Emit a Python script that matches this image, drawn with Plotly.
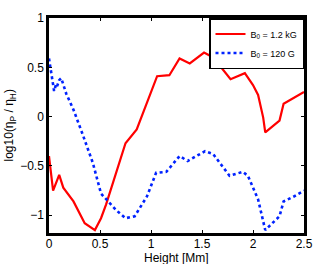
import plotly.graph_objects as go

red_x = [0, 0.04, 0.10, 0.14, 0.24, 0.35, 0.45, 0.51, 0.56, 0.66, 0.75, 0.86, 0.96, 1.06, 1.18, 1.28, 1.38, 1.52, 1.61, 1.78, 1.92, 2.00, 2.05, 2.10, 2.12, 2.26, 2.30, 2.50]
red_y = [-0.40, -0.75, -0.59, -0.72, -0.86, -1.08, -1.15, -1.03, -0.89, -0.57, -0.27, -0.13, 0.14, 0.41, 0.42, 0.59, 0.54, 0.65, 0.60, 0.38, 0.44, 0.32, 0.22, -0.01, -0.16, -0.04, 0.13, 0.25]

blue_x = [0, 0.02, 0.05, 0.07, 0.08, 0.10, 0.12, 0.17, 0.24, 0.33, 0.43, 0.51, 0.56, 0.66, 0.75, 0.84, 0.96, 1.05, 1.15, 1.28, 1.36, 1.53, 1.61, 1.77, 1.90, 1.95, 2.05, 2.12, 2.26, 2.30, 2.40, 2.50]
blue_y = [0.59, 0.47, 0.26, 0.33, 0.31, 0.37, 0.39, 0.23, 0.07, -0.18, -0.47, -0.78, -0.84, -0.95, -1.03, -1.01, -0.81, -0.57, -0.56, -0.40, -0.45, -0.35, -0.38, -0.60, -0.56, -0.60, -0.84, -1.15, -1.01, -0.86, -0.81, -0.75]

x_ticks = [0, 0.5, 1, 1.5, 2, 2.5]
y_ticks = [-1, -0.5, 0, 0.5, 1]
x_title = "Height [Mm]"
y_title = "log10(\u03b7<sub>P</sub> / \u03b7<sub>H</sub>)"

FONT = "Liberation Sans, Arial"

fig = go.Figure()
fig.add_trace(go.Scatter(x=red_x, y=red_y, mode="lines", name="B<sub>0</sub> = 1.2 kG",
                         line=dict(color="#ff0000", width=2.2)))
fig.add_trace(go.Scatter(x=blue_x, y=blue_y, mode="lines", name="B<sub>0</sub> = 120 G",
                         line=dict(color="#0022ff", width=2.6, dash="dot")))

axis_common = dict(showgrid=False, zeroline=False, showline=True, linecolor="black",
                   linewidth=2.5, mirror="ticks", ticks="inside", ticklen=3,
                   tickcolor="black", automargin=False,
                   tickfont=dict(family=FONT, size=12, color="black"))

fig.update_xaxes(range=[0, 2.5], tickvals=x_ticks, ticktext=["0", "0.5", "1", "1.5", "2", "2.5"],
                 **axis_common)
fig.update_yaxes(range=[-1.18, 1.0], tickvals=y_ticks, ticktext=["\u22121", "\u22120.5", "0", "0.5", "1"],
                 **axis_common)
try:
    fig.update_xaxes(ticklabelstandoff=-2)
except Exception:
    pass

fig.add_annotation(text=x_title, xref="paper", yref="paper", x=0.5, y=0, yshift=-25,
                   xanchor="center", yanchor="middle", showarrow=False,
                   font=dict(family=FONT, size=12, color="black"))
fig.add_annotation(text=y_title, xref="paper", yref="paper", x=-0.153, y=0.5,
                   xanchor="center", yanchor="middle", showarrow=False, textangle=-90,
                   font=dict(family=FONT, size=12, color="black"))

fig.update_layout(
    width=336, height=264,
    margin=dict(l=49, r=32, t=18, b=31),
    paper_bgcolor="white", plot_bgcolor="white",
    showlegend=True,
    legend=dict(x=1, y=1, xanchor="right", yanchor="top",
                bordercolor="black", borderwidth=1.5, bgcolor="white",
                font=dict(family=FONT, size=9, color="black"),
                tracegroupgap=0, itemwidth=30),
)

fig.write_html("out.html", config={"displayModeBar": False},
               post_script="document.body.style.margin='0';")
